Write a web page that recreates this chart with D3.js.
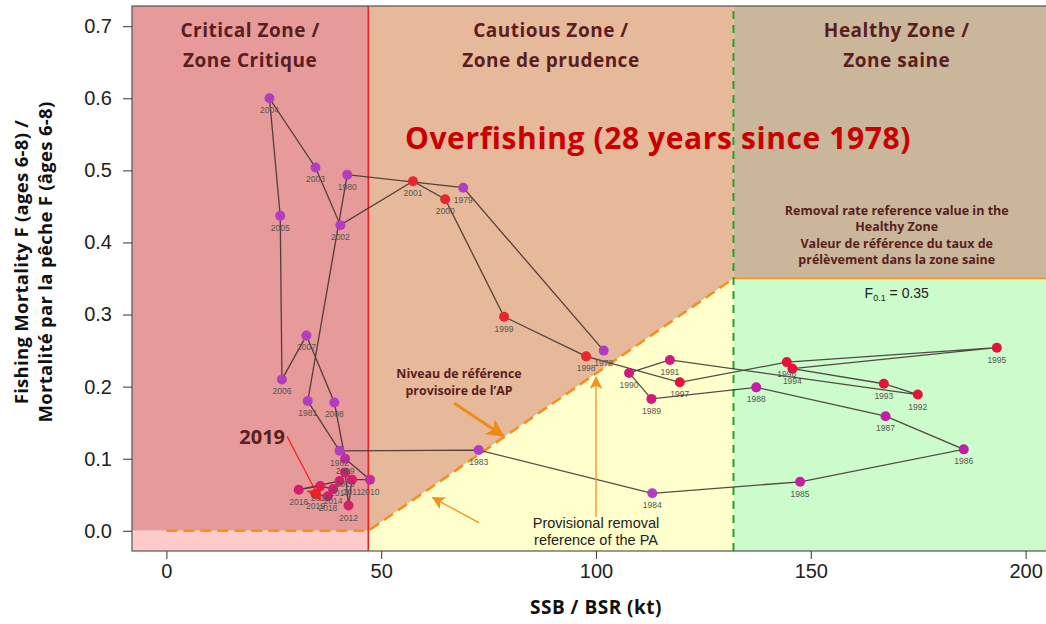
<!DOCTYPE html>
<html>
<head>
<meta charset="utf-8">
<script src="https://cdn.jsdelivr.net/npm/d3@7"></script>
<style>
  html, body { margin: 0; padding: 0; background: #fff; }
  svg { display: block; }
</style>
</head>
<body>
<svg id="chart" width="1046" height="624"></svg>
<script>
// Stock trajectory: spawning stock biomass (kt) vs fishing mortality F (ages 6-8)
const years = [1978, 1979, 1980, 1981, 1982, 1983, 1984, 1985, 1986, 1987,
               1988, 1989, 1990, 1991, 1992, 1993, 1994, 1995, 1996, 1997,
               1998, 1999, 2000, 2001, 2002, 2003, 2004, 2005, 2006, 2007,
               2008, 2009, 2010, 2011, 2012, 2013, 2014, 2015, 2016, 2017,
               2018, 2019];
const ssb = [101.8, 69.1, 42.1, 32.9, 40.3, 72.7, 113.1, 147.5, 185.6, 167.4,
             137.3, 112.9, 107.7, 117.2, 174.9, 167.0, 145.7, 193.3, 144.4, 119.5,
             97.7, 78.6, 64.9, 57.4, 40.5, 34.7, 24.0, 26.5, 26.9, 32.6,
             39.1, 41.6, 47.4, 43.2, 42.4, 41.6, 38.8, 35.8, 30.8, 40.3,
             37.6, 34.7];
const fishingMortality = [0.250, 0.476, 0.494, 0.180, 0.111, 0.112, 0.052, 0.068, 0.113, 0.159,
                          0.199, 0.183, 0.219, 0.237, 0.189, 0.204, 0.225, 0.254, 0.234, 0.206,
                          0.242, 0.297, 0.460, 0.485, 0.424, 0.504, 0.600, 0.437, 0.210, 0.271,
                          0.178, 0.100, 0.071, 0.071, 0.035, 0.081, 0.058, 0.062, 0.057, 0.069,
                          0.048, 0.051];

// Precautionary approach reference points
const limitRef = 47;        // LRP (kt)
const upperStockRef = 132;  // USR (kt)
const removalRef = 0.35;    // F0.1

const xTicks = [0, 50, 100, 150, 200];
const yTicks = [0, 0.1, 0.2, 0.3, 0.4, 0.5, 0.6, 0.7];

const svg = d3.select("#chart");
const plot = { left: 132, right: 1060, top: 6, bottom: 551 };

const x = d3.scaleLinear().domain([-8, 208]).range([plot.left, plot.right]);
const y = d3.scaleLinear().domain([-0.028, 0.728]).range([plot.bottom, plot.top]);
const xMin = -8, xMax = 208, yMin = -0.028, yMax = 0.728;

const boldFont = "'Open Sans', sans-serif";
const plainFont = "'Liberation Sans', Arial, sans-serif";

const defs = svg.append("defs");
defs.append("clipPath").attr("id", "plotClip")
  .append("rect").attr("x", plot.left).attr("y", plot.top)
  .attr("width", plot.right - plot.left).attr("height", plot.bottom - plot.top);

function marker(id, color, w, h) {
  defs.append("marker").attr("id", id)
    .attr("viewBox", "0 0 10 10").attr("refX", 9).attr("refY", 5)
    .attr("markerUnits", "userSpaceOnUse")
    .attr("markerWidth", w).attr("markerHeight", h)
    .attr("orient", "auto")
    .append("path").attr("d", "M0,0 L10,5 L0,10 L2.5,5 Z").attr("fill", color);
}
marker("arrowOrangeBig", "#F08A1C", 22, 18);
marker("arrowOrange", "#F5921E", 16, 13);
marker("arrowRed", "#EE2222", 18, 16);

const g = svg.append("g").attr("clip-path", "url(#plotClip)");
const line = d3.line().x(d => x(d[0])).y(d => y(d[1]));

// Zone backgrounds
const zones = [
  { pts: [[xMin, 0], [limitRef, 0], [limitRef, yMax], [xMin, yMax]], fill: "#E69A9A" },
  { pts: [[xMin, yMin], [limitRef, yMin], [limitRef, 0], [xMin, 0]], fill: "#FFCACA" },
  { pts: [[limitRef, yMax], [limitRef, 0], [upperStockRef, removalRef], [upperStockRef, yMax]], fill: "#E6B99B" },
  { pts: [[limitRef, yMin], [limitRef, 0], [upperStockRef, removalRef], [upperStockRef, yMin]], fill: "#FFFFCC" },
  { pts: [[upperStockRef, removalRef], [xMax, removalRef], [xMax, yMax], [upperStockRef, yMax]], fill: "#C9B69B" },
  { pts: [[upperStockRef, yMin], [xMax, yMin], [xMax, removalRef], [upperStockRef, removalRef]], fill: "#CCFCCC" }
];
g.selectAll("path.zone").data(zones).join("path")
  .attr("class", "zone")
  .attr("d", d => line(d.pts) + "Z")
  .attr("fill", d => d.fill);

// Removal reference in healthy zone
g.append("line")
  .attr("x1", x(upperStockRef)).attr("x2", x(xMax))
  .attr("y1", y(removalRef)).attr("y2", y(removalRef))
  .attr("stroke", "#F0901E").attr("stroke-width", 1.6);

// Provisional harvest control rule
g.append("path")
  .attr("d", line([[0, 0], [limitRef, 0], [upperStockRef, removalRef]]))
  .attr("fill", "none").attr("stroke", "#F5901E")
  .attr("stroke-width", 2.6).attr("stroke-dasharray", "11,6");

// Critical / cautious boundary
g.append("line")
  .attr("x1", x(limitRef)).attr("x2", x(limitRef))
  .attr("y1", y(yMin)).attr("y2", y(yMax))
  .attr("stroke", "#E82222").attr("stroke-width", 1.6);

// Cautious / healthy boundary
g.append("line")
  .attr("x1", x(upperStockRef)).attr("x2", x(upperStockRef))
  .attr("y1", y(yMin)).attr("y2", y(yMax))
  .attr("stroke", "#2AA02A").attr("stroke-width", 2).attr("stroke-dasharray", "8,6");

// Trajectory
const pts = years.map((yr, i) => ({ year: yr, b: ssb[i], f: fishingMortality[i] }));
g.append("path")
  .attr("d", d3.line().x(d => x(d.b)).y(d => y(d.f))(pts))
  .attr("fill", "none").attr("stroke", "#3B2A2A").attr("stroke-opacity", 0.85)
  .attr("stroke-width", 1.3);

function pointColor(yr) {
  if (yr <= 1984) return "#B23CC2";
  if (yr <= 1988) return "#C61CA8";
  if (yr <= 1991) return "#D2197F";
  if (yr <= 1997) return "#E6123E";
  if (yr <= 2001) return "#E8262E";
  if (yr <= 2008) return "#B23CC2";
  if (yr <= 2010) return "#C22AA6";
  return "#D41E6E";
}

g.selectAll("circle.pt").data(pts).join("circle")
  .attr("class", "pt")
  .attr("cx", d => x(d.b)).attr("cy", d => y(d.f))
  .attr("r", 5).attr("fill", d => pointColor(d.year));

g.selectAll("text.yr").data(pts).join("text")
  .attr("class", "yr")
  .attr("x", d => x(d.b)).attr("y", d => y(d.f) + 15)
  .attr("text-anchor", "middle")
  .attr("font-family", plainFont)
  .attr("font-size", 8.5).attr("fill", "#555")
  .text(d => d.year);

// Zone titles
const zoneTitle = "#5A1E1E";
const titles = [
  { cx: (xMin + limitRef) / 2, lines: ["Critical Zone /", "Zone Critique"] },
  { cx: (limitRef + upperStockRef) / 2, lines: ["Cautious Zone /", "Zone de prudence"] },
  { cx: (upperStockRef + xMax) / 2, lines: ["Healthy Zone /", "Zone saine"] }
];
titles.forEach(t => {
  t.lines.forEach((s, i) => {
    svg.append("text")
      .attr("x", x(t.cx)).attr("y", 37 + i * 30)
      .attr("text-anchor", "middle")
      .attr("font-family", boldFont).attr("font-weight", "bold")
      .attr("font-size", 19).attr("letter-spacing", 0.5).attr("fill", zoneTitle)
      .text(s);
  });
});

svg.append("text")
  .attr("x", 658).attr("y", 149)
  .attr("text-anchor", "middle")
  .attr("font-family", boldFont).attr("font-weight", "bold")
  .attr("font-size", 30).attr("letter-spacing", 0.6).attr("fill", "#C80000")
  .text("Overfishing (28 years since 1978)");

["Removal rate reference value in the", "Healthy Zone",
 "Valeur de référence du taux de", "prélèvement dans la zone saine"].forEach((s, i) => {
  svg.append("text")
    .attr("x", x((upperStockRef + xMax) / 2)).attr("y", 215 + i * 16.3)
    .attr("text-anchor", "middle")
    .attr("font-family", boldFont).attr("font-weight", "bold")
    .attr("font-size", 12.5).attr("fill", zoneTitle)
    .text(s);
});

const fLabel = svg.append("text")
  .attr("x", x((upperStockRef + xMax) / 2)).attr("y", 298)
  .attr("text-anchor", "middle")
  .attr("font-family", plainFont)
  .attr("font-size", 14).attr("fill", "#222");
fLabel.append("tspan").text("F");
fLabel.append("tspan").attr("font-size", 9).attr("dy", 3).text("0.1");
fLabel.append("tspan").attr("dy", -3).text(" = 0.35");

["Niveau de référence", "provisoire de l\u2019AP"].forEach((s, i) => {
  svg.append("text")
    .attr("x", 459).attr("y", 378 + i * 17)
    .attr("text-anchor", "middle")
    .attr("font-family", boldFont).attr("font-weight", "bold")
    .attr("font-size", 12.4).attr("fill", zoneTitle)
    .text(s);
});

["Provisional removal", "reference of the PA"].forEach((s, i) => {
  svg.append("text")
    .attr("x", x(100)).attr("y", 528 + i * 17)
    .attr("text-anchor", "middle")
    .attr("font-family", plainFont)
    .attr("font-size", 14.5).attr("fill", "#222")
    .text(s);
});

// Annotation arrows
svg.append("line")
  .attr("x1", x(67.0)).attr("y1", y(0.177)).attr("x2", x(78.4)).attr("y2", y(0.132))
  .attr("stroke", "#F08A1C").attr("stroke-width", 3)
  .attr("marker-end", "url(#arrowOrangeBig)");
svg.append("line")
  .attr("x1", x(72.8)).attr("y1", y(0.011)).attr("x2", x(62.0)).attr("y2", y(0.046))
  .attr("stroke", "#F5921E").attr("stroke-width", 1.3)
  .attr("marker-end", "url(#arrowOrange)");
svg.append("line")
  .attr("x1", x(100)).attr("y1", y(0.019)).attr("x2", x(100)).attr("y2", y(0.213))
  .attr("stroke", "#F5921E").attr("stroke-width", 1.3)
  .attr("marker-end", "url(#arrowOrange)");

svg.append("text")
  .attr("x", x(22.3)).attr("y", y(0.130) + 7)
  .attr("text-anchor", "middle")
  .attr("font-family", boldFont).attr("font-weight", "bold")
  .attr("font-size", 20).attr("fill", "#5A2020")
  .text("2019");
svg.append("line")
  .attr("x1", x(28.1)).attr("y1", y(0.131)).attr("x2", x(35.8)).attr("y2", y(0.043))
  .attr("stroke", "#EE2222").attr("stroke-width", 1.2)
  .attr("marker-end", "url(#arrowRed)");

// Frame
svg.append("rect")
  .attr("x", plot.left).attr("y", plot.top)
  .attr("width", plot.right - plot.left).attr("height", plot.bottom - plot.top)
  .attr("fill", "none").attr("stroke", "#555").attr("stroke-width", 1.2);

// Axes
const xAxis = d3.axisBottom(x).tickValues(xTicks).tickFormat(d3.format("d"))
  .tickSize(8).tickPadding(5);
const yAxis = d3.axisLeft(y).tickValues(yTicks).tickFormat(d3.format(".1f"))
  .tickSize(9).tickPadding(11);

const gx = svg.append("g").attr("transform", `translate(0,${plot.bottom})`).call(xAxis);
const gy = svg.append("g").attr("transform", `translate(${plot.left},0)`).call(yAxis);
[gx, gy].forEach(a => {
  a.select(".domain").remove();
  a.selectAll(".tick line").attr("stroke", "#444").attr("stroke-width", 1.1);
  a.selectAll(".tick text")
    .attr("font-family", plainFont)
    .attr("font-size", 20).attr("fill", "#222");
});

svg.append("text")
  .attr("x", (plot.left + plot.right) / 2).attr("y", 614)
  .attr("text-anchor", "middle")
  .attr("font-family", boldFont).attr("font-weight", "bold")
  .attr("font-size", 19).attr("letter-spacing", 0.5).attr("fill", "#111")
  .text("SSB / BSR (kt)");

["Fishing Mortality F (ages 6-8) /", "Mortalité par la pêche F (âges 6-8)"].forEach((s, i) => {
  svg.append("text")
    .attr("transform", `translate(${28 + i * 24},262) rotate(-90)`)
    .attr("text-anchor", "middle")
    .attr("font-family", boldFont).attr("font-weight", "bold")
    .attr("font-size", 18.5).attr("letter-spacing", 0.3).attr("fill", "#111")
    .text(s);
});
</script>
</body>
</html>
